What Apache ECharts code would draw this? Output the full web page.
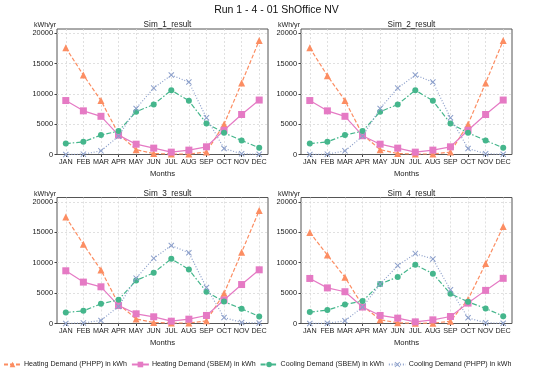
<!DOCTYPE html>
<html>
<head>
<meta charset="utf-8">
<script src="https://cdn.jsdelivr.net/npm/echarts@6/dist/echarts.min.js"></script>
<style>html,body{margin:0;padding:0;background:#fff}#c{width:553px;height:372px}</style>
</head>
<body>
<div id="c"></div>
<script>
const months = ['JAN','FEB','MAR','APR','MAY','JUN','JUL','AUG','SEP','OCT','NOV','DEC'];
const yTicks = [0, 5000, 10000, 15000, 20000];
const mainTitle = 'Run 1 - 4 - 01 ShOffice NV';
const simNames = ['Sim_1_result','Sim_2_result','Sim_3_result','Sim_4_result'];
const seriesNames = ['Heating Demand (PHPP) in kWh','Heating Demand (SBEM) in kWh','Cooling Demand (SBEM) in kWh','Cooling Demand (PHPP) in kWh'];

// Sim_1
const sim1HeatPHPP = [17600, 13100, 8900, 3400, 800, 150, 80, 80, 400, 5000, 11800, 18800];
const sim1HeatSBEM = [8900, 7200, 6300, 3200, 1700, 1050, 390, 720, 1270, 4000, 6600, 8980];
const sim1CoolSBEM = [1800, 2090, 3200, 3860, 7050, 8260, 10600, 8870, 5120, 3580, 2310, 1100];
const sim1CoolPHPP = [0, 60, 600, 3000, 7600, 10950, 13100, 11950, 6050, 990, 120, 30];
// Sim_2
const sim2HeatPHPP = [17600, 13000, 8900, 3300, 800, 150, 80, 80, 400, 5000, 11800, 18800];
const sim2HeatSBEM = [8900, 7200, 6300, 3100, 1700, 1050, 390, 720, 1270, 4000, 6600, 8980];
const sim2CoolSBEM = [1800, 2090, 3200, 3860, 7050, 8260, 10600, 8870, 5120, 3580, 2310, 1100];
const sim2CoolPHPP = [0, 60, 600, 3000, 7600, 10950, 13100, 11950, 6050, 990, 120, 30];
// Sim_3
const sim3HeatPHPP = [17500, 13000, 8800, 3200, 750, 160, 80, 80, 440, 4950, 11700, 18550];
const sim3HeatSBEM = [8660, 6800, 6030, 2950, 1590, 1100, 380, 710, 1320, 3850, 6400, 8820];
const sim3CoolSBEM = [1810, 2080, 3230, 3890, 7070, 8330, 10630, 8880, 5210, 3600, 2410, 1150];
const sim3CoolPHPP = [0, 100, 500, 2800, 7450, 10700, 12820, 11620, 5920, 990, 160, 80];
// Sim_4
const sim4HeatPHPP = [14950, 11250, 7600, 2950, 620, 110, 40, 50, 380, 3960, 9840, 15930];
const sim4HeatSBEM = [7400, 5850, 5220, 2700, 1320, 880, 270, 600, 1150, 3350, 5440, 7420];
const sim4CoolSBEM = [1870, 2200, 3130, 3680, 6480, 7640, 9650, 8190, 4890, 3570, 2470, 1210];
const sim4CoolPHPP = [0, 50, 440, 2700, 6480, 9510, 11480, 10600, 5550, 930, 110, 50];

const simData = [
  [sim1HeatPHPP, sim1HeatSBEM, sim1CoolSBEM, sim1CoolPHPP],
  [sim2HeatPHPP, sim2HeatSBEM, sim2CoolSBEM, sim2CoolPHPP],
  [sim3HeatPHPP, sim3HeatSBEM, sim3CoolSBEM, sim3CoolPHPP],
  [sim4HeatPHPP, sim4HeatSBEM, sim4CoolSBEM, sim4CoolPHPP]
];

const FONT = 'Liberation Sans, Arial, sans-serif';
const colors = ['#fc8d62', '#e57ac4', '#45b68c', '#8da0cb'];
const xPath = 'path://M0,1.2 L1.2,0 L5,3.8 L8.8,0 L10,1.2 L6.2,5 L10,8.8 L8.8,10 L5,6.2 L1.2,10 L0,8.8 L3.8,5 Z';
const symbols = ['triangle', 'rect', 'circle', xPath];
const symSizes = [7, 7, 6, 6];
const lineTypes = [[4, 2], 'solid', [5, 2, 1.5, 2], [1, 1.8]];

const gridPos = [
  {left: 57, top: 29, width: 211, height: 125.5},
  {left: 301, top: 29, width: 211, height: 125.5},
  {left: 57, top: 197.5, width: 211, height: 126},
  {left: 301, top: 197.5, width: 211, height: 126}
];

const grids = [], xAxes = [], yAxes = [], series = [], titles = [];
titles.push({text: mainTitle, left: 'center', top: 0, textStyle: {fontFamily: FONT, fontSize: 10.5, fontWeight: 'normal', color: '#111'}});
gridPos.forEach((g, i) => {
  grids.push(Object.assign({show: true, borderColor: '#555', borderWidth: 1, backgroundColor: 'transparent'}, g));
  xAxes.push({
    type: 'category', gridIndex: i, data: months, boundaryGap: true,
    name: 'Months', nameLocation: 'middle', nameGap: 15,
    nameTextStyle: {fontFamily: FONT, fontSize: 7.7, color: '#222'},
    axisLine: {show: false},
    axisTick: {show: true, alignWithLabel: true, length: 2.5, lineStyle: {color: '#444'}},
    axisLabel: {fontFamily: FONT, fontSize: 7.2, color: '#222', margin: 4, interval: 0},
    splitLine: {show: true, alignWithLabel: true, interval: 0, lineStyle: {color: '#d8d8d8', type: [2, 2], width: 0.8}}
  });
  yAxes.push({
    type: 'value', gridIndex: i, min: yTicks[0], max: 20700, interval: yTicks[1] - yTicks[0],
    axisLine: {show: false},
    axisTick: {show: true, length: 2.5, lineStyle: {color: '#444'}},
    axisLabel: {fontFamily: FONT, fontSize: 7.4, color: '#222', margin: 4, showMaxLabel: false,
      formatter: v => (yTicks.indexOf(v) >= 0 ? String(v) : '')},
    splitLine: {show: true, showMinLine: false, showMaxLine: false, lineStyle: {color: '#d8d8d8', type: [2, 2], width: 0.8}}
  });
  titles.push({text: simNames[i], left: g.left + g.width / 2, top: g.top - 13, textAlign: 'center',
    textStyle: {fontFamily: FONT, fontSize: 8.2, fontWeight: 'normal', color: '#222'}});
  titles.push({text: 'kWh/yr', left: g.left - 6, top: g.top - 12, textAlign: 'right',
    textStyle: {fontFamily: FONT, fontSize: 7.1, fontWeight: 'normal', color: '#222'}});
  simData[i].forEach((vals, k) => {
    series.push({
      name: seriesNames[k], type: 'line', xAxisIndex: i, yAxisIndex: i,
      data: vals, symbol: symbols[k], symbolSize: symSizes[k], showSymbol: true,
      itemStyle: {color: colors[k]},
      lineStyle: {color: colors[k], width: 1.2, type: lineTypes[k]},
      animation: false, z: 3 + k
    });
  });
});

const chart = echarts.init(document.getElementById('c'), null, {renderer: 'canvas'});
chart.setOption({
  animation: false,
  title: titles,
  grid: grids,
  xAxis: xAxes,
  yAxis: yAxes,
  series: series,
  legend: {
    data: seriesNames, left: 3, top: 361, padding: 0, itemWidth: 17, itemHeight: 7, itemGap: 4,
    textStyle: {fontFamily: FONT, fontSize: 7.1, color: '#222', padding: [0, 0, 0, -2]}
  }
});
</script>
</body>
</html>
